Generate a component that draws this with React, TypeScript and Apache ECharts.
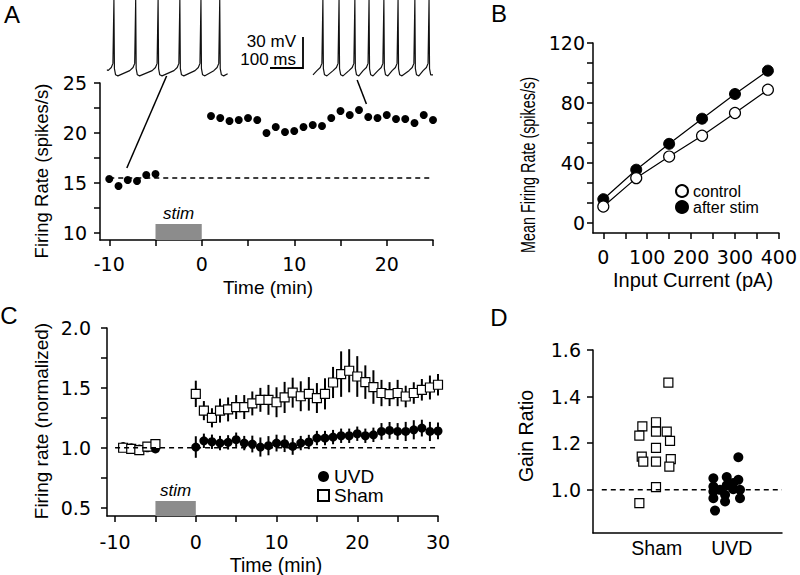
import React, { useEffect, useRef } from "react";
import * as echarts from "echarts";

const FONT = "'Liberation Sans', Arial, Helvetica, sans-serif";
const TICKFONT = "'DejaVu Sans', 'Liberation Sans', Arial, sans-serif";

// ---------------- Panel A : single cell firing rate ----------------
const timeA = [-10, -9, -8, -7, -6, -5, 1, 2, 3, 4, 5, 6, 7, 8, 9, 10, 11, 12, 13, 14, 15, 16, 17, 18, 19, 20, 21, 22, 23, 24, 25];
const rateA = [15.4, 14.7, 15.3, 15.2, 15.8, 15.9, 21.7, 21.5, 21.2, 21.3, 21.5, 21.3, 20.0, 20.6, 20.1, 20.2, 20.6, 20.8, 20.7, 21.5, 22.2, 21.8, 22.3, 21.6, 21.5, 21.8, 21.4, 21.4, 21.0, 21.8, 21.3];
const baselineA = 15.5;
const baselineSpanA = [-10, 25];
const stimWindow = [-5, 0];
const stimTopA = 10.9;
const connectorsA = [
  [[-3.8, 25.7], [-8.1, 16.5]],
  [[16.8, 25.3], [17.8, 22.9]],
];
const xTicksA = [-10, -5, 0, 5, 10, 15, 20, 25];
const xLabelsA = [-10, 0, 10, 20];
const yTicksA = [10, 12.5, 15, 17.5, 20, 22.5, 25];
const yLabelsA = [10, 15, 20, 25];

// inset voltage traces (ms, mV)
const spikesBefore = [21, 87, 155, 221, 285, 342];
const spikesAfter = [30, 79, 127, 170, 215, 258, 309, 352];
const spikeShapeOffsetMs = [-18, -8, -3, 0, 1.5, 5, 12];
const spikeShapeMv = [-48, -45, -41, 20, -46, -52, -53];
const traceEndsBefore = [[0, -47], [366, -51]];
const traceEndsAfter = [[0, -52], [364, -52]];

// ---------------- Panel B : f-I curves ----------------
const currentB = [0, 75, 150, 225, 300, 375];
const controlB = [10.7, 29.7, 44.1, 58.0, 73.2, 88.8];
const afterStimB = [15.6, 35.3, 52.6, 69.4, 85.9, 101.5];
const xTicksB = [0, 50, 100, 150, 200, 250, 300, 350, 400];
const xLabelsB = [0, 100, 200, 300, 400];
const yTicksB = [0, 13.333, 26.667, 40, 53.333, 66.667, 80, 93.333, 106.667, 120];
const yLabelsB = [0, 40, 80, 120];

// ---------------- Panel C : normalized firing rate ----------------
const timeC = [-9, -8, -7, -6, -5, 0, 1, 2, 3, 4, 5, 6, 7, 8, 9, 10, 11, 12, 13, 14, 15, 16, 17, 18, 19, 20, 21, 22, 23, 24, 25, 26, 27, 28, 29, 30];
const uvdMean = [1.01, 1.0, 0.99, 1.0, 0.99, 1.006, 1.058, 1.05, 1.039, 1.045, 1.067, 1.039, 1.031, 1.006, 1.017, 1.039, 1.034, 1.011, 1.039, 1.048, 1.081, 1.081, 1.089, 1.1, 1.1, 1.117, 1.1, 1.108, 1.136, 1.145, 1.136, 1.136, 1.15, 1.164, 1.136, 1.14];
const uvdSem = [0.02, 0.02, 0.02, 0.02, 0.02, 0.09, 0.06, 0.06, 0.06, 0.06, 0.06, 0.06, 0.07, 0.08, 0.08, 0.07, 0.07, 0.07, 0.06, 0.06, 0.06, 0.06, 0.06, 0.06, 0.06, 0.06, 0.06, 0.06, 0.07, 0.07, 0.07, 0.08, 0.08, 0.07, 0.08, 0.07];
const shamMean = [1.0, 0.99, 0.98, 1.01, 1.03, 1.45, 1.31, 1.25, 1.31, 1.32, 1.34, 1.34, 1.37, 1.4, 1.4, 1.38, 1.42, 1.46, 1.43, 1.45, 1.415, 1.45, 1.545, 1.615, 1.643, 1.595, 1.548, 1.507, 1.457, 1.448, 1.457, 1.428, 1.457, 1.484, 1.503, 1.526];
const shamSem = [0.03, 0.03, 0.03, 0.03, 0.03, 0.11, 0.08, 0.08, 0.1, 0.1, 0.1, 0.1, 0.1, 0.1, 0.125, 0.125, 0.13, 0.125, 0.125, 0.14, 0.125, 0.13, 0.13, 0.19, 0.18, 0.17, 0.14, 0.14, 0.11, 0.1, 0.11, 0.09, 0.09, 0.09, 0.1, 0.09];
const baselineC = 1.0;
const baselineSpanC = [-10, 30];
const stimTopC = 0.555;
const xTicksC = [-10, -5, 0, 5, 10, 15, 20, 25, 30];
const xLabelsC = [-10, 0, 10, 20, 30];
const yTicksC = [0.5, 0.75, 1.0, 1.25, 1.5, 1.75, 2.0];
const yLabelsC = [0.5, 1.0, 1.5, 2.0];

// ---------------- Panel D : gain ratio ----------------
const groupsD = ["Sham", "UVD"];
const shamGainX = [0.8, 1.155, 0.808, 0.768, 0.99, 0.99, 1.133, 1.177, 0.99, 0.8, 0.82, 0.99, 1.187, 1.168, 0.99, 0.768];
const shamGainY = [1.612, 1.46, 1.272, 1.233, 1.29, 1.25, 1.25, 1.21, 1.18, 1.143, 1.121, 1.121, 1.132, 1.1, 1.012, 0.943];
const uvdGainX = [2.088, 1.755, 1.933, 2.088, 1.755, 1.933, 2.02, 1.755, 1.844, 2.11, 1.755, 1.911, 2.11, 1.911, 1.777, 2.02];
const uvdGainY = [1.14, 1.05, 1.055, 1.043, 1.014, 1.02, 1.003, 0.993, 1.0, 1.0, 0.964, 0.979, 0.964, 0.95, 0.911, 1.03];
const baselineD = 1.0;
const baselineSpanD = [0.267, 2.67];
const yTicksD = [1.0, 1.2, 1.4, 1.6];

// ---------------- helpers ----------------
const zip = (xs: number[], ys: number[]) => xs.map((x, i) => [x, ys[i]]);

function buildTrace(spikes: number[], ends: number[][]) {
  const pts: number[][] = [];
  spikes.forEach((s) =>
    spikeShapeOffsetMs.forEach((o, k) => {
      const t = s + o;
      if (t > ends[0][0] && t < ends[1][0]) pts.push([t, spikeShapeMv[k]]);
    })
  );
  pts.sort((a, b) => a[0] - b[0]);
  return [ends[0], ...pts, ends[1]];
}

function axis(
  gridIndex: number,
  min: number,
  max: number,
  ticks: number[],
  labels: number[],
  margin: number,
  fontSize: number,
  fmt?: (v: number) => string,
  family: string = TICKFONT
) {
  return {
    type: "value",
    gridIndex,
    min,
    max,
    axisLine: { show: true, onZero: false, lineStyle: { color: "#000", width: 1.5 } },
    axisTick: ticks.length
      ? { show: true, length: 6, customValues: ticks, lineStyle: { color: "#000", width: 1.5 } }
      : { show: false },
    axisLabel: {
      customValues: labels,
      margin,
      fontSize,
      fontFamily: family,
      color: "#000",
      formatter: fmt || ((v: number) => String(v)),
    },
    splitLine: { show: false },
  };
}

const hidden = (gridIndex: number, min: number, max: number) => ({
  type: "value",
  gridIndex,
  min,
  max,
  show: false,
  splitLine: { show: false },
});

const dashed = { color: "#000", width: 1.5, type: [5, 4] };

function errorBars(name: string, idx: number, xs: number[], ys: number[], es: number[], w: number) {
  return {
    type: "custom",
    name,
    xAxisIndex: idx,
    yAxisIndex: idx,
    silent: true,
    data: xs.map((x, i) => [x, ys[i], es[i]]),
    encode: { x: 0, y: 1 },
    renderItem: (_p: any, api: any) => {
      const x = api.value(0);
      const y = api.value(1);
      const e = api.value(2);
      const a = api.coord([x, y + e]);
      const b = api.coord([x, y - e]);
      return {
        type: "line",
        shape: { x1: a[0], y1: a[1], x2: b[0], y2: b[1] },
        style: { stroke: "#000", lineWidth: w },
      };
    },
  };
}

const txt = (text: string, x: number, y: number, fontSize: number, rot = 0, extra: any = {}, scaleX = 1) => ({
  type: "text",
  x,
  y,
  rotation: rot,
  scaleX,
  silent: true,
  style: {
    text,
    fontSize,
    fontFamily: FONT,
    fill: "#000",
    align: "center",
    verticalAlign: "middle",
    ...extra,
  },
});

const stimLabel = {
  show: true,
  position: "top",
  formatter: "stim",
  fontStyle: "italic",
  fontSize: 17,
  fontFamily: FONT,
  color: "#000",
  distance: 2,
};

const solid = (c: string) => ({ color: c, opacity: 1 });

const option: any = {
  animation: false,
  backgroundColor: "#fff",
  textStyle: { fontFamily: FONT, color: "#000" },
  grid: [
    { left: 100, top: 83, width: 333, height: 157 },
    { left: 593, top: 43, width: 190, height: 190 },
    { left: 107, top: 328, width: 331, height: 188 },
    { left: 593, top: 350, width: 189, height: 183 },
    { left: 107, top: 0, width: 120, height: 80 },
    { left: 313, top: 0, width: 120, height: 80 },
  ],
  xAxis: [
    axis(0, -11, 25, xTicksA, xLabelsA, 14, 19),
    axis(1, -23.5, 400, xTicksB, xLabelsB, 14, 19),
    axis(2, -11, 30, xTicksC, xLabelsC, 16, 19),
    axis(3, 0.15, 2.67, [], [1, 2], 5, 19.5, (v: number) => groupsD[Math.round(v) - 1], FONT),
    hidden(4, 0, 364),
    hidden(5, 0, 364),
  ],
  yAxis: [
    axis(0, 9.3, 25, yTicksA, yLabelsA, 13, 19),
    axis(1, -7, 120, yTicksB, yLabelsB, 8, 19),
    axis(2, 0.43, 2.0, yTicksC, yLabelsC, 16, 19, (v: number) => v.toFixed(1)),
    axis(3, 0.815, 1.6, yTicksD, yTicksD, 12, 19, (v: number) => v.toFixed(1)),
    hidden(4, -57, 20),
    hidden(5, -57, 20),
  ],
  legend: [
    {
      data: [
        { name: "control", icon: "circle" },
        { name: "after stim", icon: "circle" },
      ],
      orient: "vertical",
      left: 670,
      top: 178,
      itemWidth: 12,
      itemHeight: 12,
      itemGap: 0,
      selectedMode: false,
      textStyle: { fontSize: 16, lineHeight: 16, color: "#000", fontFamily: FONT },
    },
    {
      data: [
        { name: "UVD", icon: "circle" },
        { name: "Sham", icon: "rect" },
      ],
      orient: "vertical",
      left: 312,
      top: 462,
      itemWidth: 11,
      itemHeight: 11,
      itemGap: 0,
      selectedMode: false,
      textStyle: { fontSize: 19, lineHeight: 19, color: "#000", fontFamily: FONT },
    },
  ],
  series: [
    // ---- A ----
    {
      type: "line",
      name: "baseline A",
      xAxisIndex: 0,
      yAxisIndex: 0,
      data: baselineSpanA.map((x) => [x, baselineA]),
      symbol: "none",
      lineStyle: dashed,
      silent: true,
      markArea: {
        silent: true,
        itemStyle: { color: "#8c8c8c", opacity: 1 },
        label: stimLabel,
        data: [[{ coord: [stimWindow[0], 9.3] }, { coord: [stimWindow[1], stimTopA] }]],
      },
    },
    ...connectorsA.map((seg, i) => ({
      type: "line",
      name: "connector " + i,
      xAxisIndex: 0,
      yAxisIndex: 0,
      data: seg,
      clip: false,
      symbol: "none",
      silent: true,
      lineStyle: { color: "#000", width: 1.5 },
    })),
    {
      type: "scatter",
      name: "rate A",
      xAxisIndex: 0,
      yAxisIndex: 0,
      data: zip(timeA, rateA),
      symbol: "circle",
      symbolSize: 8,
      itemStyle: solid("#000"),
    },
    {
      type: "line",
      name: "trace before",
      xAxisIndex: 4,
      yAxisIndex: 4,
      data: buildTrace(spikesBefore, traceEndsBefore),
      clip: false,
      symbol: "none",
      silent: true,
      lineStyle: { color: "#111", width: 1.2 },
    },
    {
      type: "line",
      name: "trace after",
      xAxisIndex: 5,
      yAxisIndex: 5,
      data: buildTrace(spikesAfter, traceEndsAfter),
      clip: false,
      symbol: "none",
      silent: true,
      lineStyle: { color: "#111", width: 1.2 },
    },
    // ---- B ----
    {
      type: "line",
      name: "after stim",
      xAxisIndex: 1,
      yAxisIndex: 1,
      data: zip(currentB, afterStimB),
      symbol: "circle",
      symbolSize: 11,
      itemStyle: { color: "#000", borderColor: "#000", borderWidth: 1, opacity: 1 },
      lineStyle: { color: "#000", width: 1.2 },
    },
    {
      type: "line",
      name: "control",
      xAxisIndex: 1,
      yAxisIndex: 1,
      data: zip(currentB, controlB),
      symbol: "circle",
      symbolSize: 11,
      itemStyle: { color: "#fff", borderColor: "#000", borderWidth: 1.2, opacity: 1 },
      lineStyle: { color: "#000", width: 1.2 },
    },
    // ---- C ----
    {
      type: "line",
      name: "baseline C",
      xAxisIndex: 2,
      yAxisIndex: 2,
      data: baselineSpanC.map((x) => [x, baselineC]),
      symbol: "none",
      lineStyle: dashed,
      silent: true,
      markArea: {
        silent: true,
        itemStyle: { color: "#8c8c8c", opacity: 1 },
        label: stimLabel,
        data: [[{ coord: [stimWindow[0], 0.43] }, { coord: [stimWindow[1], stimTopC] }]],
      },
    },
    errorBars("UVD sem", 2, timeC, uvdMean, uvdSem, 2),
    {
      type: "scatter",
      name: "UVD",
      xAxisIndex: 2,
      yAxisIndex: 2,
      data: zip(timeC, uvdMean),
      symbol: "circle",
      symbolSize: 9,
      itemStyle: solid("#000"),
    },
    errorBars("Sham sem", 2, timeC, shamMean, shamSem, 2),
    {
      type: "scatter",
      name: "Sham",
      xAxisIndex: 2,
      yAxisIndex: 2,
      data: zip(timeC, shamMean),
      symbol: "rect",
      symbolSize: 9,
      itemStyle: { color: "#fff", borderColor: "#000", borderWidth: 1.2, opacity: 1 },
    },
    // ---- D ----
    {
      type: "line",
      name: "baseline D",
      xAxisIndex: 3,
      yAxisIndex: 3,
      data: baselineSpanD.map((x) => [x, baselineD]),
      symbol: "none",
      lineStyle: dashed,
      silent: true,
    },
    {
      type: "scatter",
      name: "Sham gain",
      xAxisIndex: 3,
      yAxisIndex: 3,
      data: zip(shamGainX, shamGainY),
      symbol: "rect",
      symbolSize: 9,
      itemStyle: { color: "#fff", borderColor: "#000", borderWidth: 1.2, opacity: 1 },
    },
    {
      type: "scatter",
      name: "UVD gain",
      xAxisIndex: 3,
      yAxisIndex: 3,
      data: zip(uvdGainX, uvdGainY),
      symbol: "circle",
      symbolSize: 10,
      itemStyle: solid("#000"),
    },
  ],
  graphic: [
    txt("A", 12, 14, 24),
    txt("B", 499, 13, 24),
    txt("C", 9, 315, 24),
    txt("D", 499, 317, 24),
    txt("Firing Rate (spikes/s)", 41, 171, 18.5, Math.PI / 2),
    txt("Time (min)", 268, 287, 19),
    txt("Mean Firing Rate (spikes/s)", 528, 165, 20, Math.PI / 2, {}, 0.72),
    txt("Input Current (pA)", 693, 280, 20),
    txt("Firing rate (normalized)", 41, 421, 19, Math.PI / 2),
    txt("Time (min)", 276, 565, 19.5),
    txt("Gain Ratio", 526, 436, 19.5, Math.PI / 2),
    {
      type: "polyline",
      silent: true,
      shape: { points: [[303, 37], [303, 68], [270, 68]] },
      style: { stroke: "#000", lineWidth: 1.8, fill: null },
    },
    txt("30 mV", 296, 41, 17, 0, { align: "right" }),
    txt("100 ms", 296, 59, 17, 0, { align: "right" }),
  ],
};

export default function App() {
  const ref = useRef<HTMLDivElement>(null);
  useEffect(() => {
    if (!ref.current) return;
    const chart = echarts.init(ref.current, null, { renderer: "svg" });
    chart.setOption(option);
    return () => chart.dispose();
  }, []);
  return (
    <div
      ref={ref}
      style={{ position: "absolute", left: 0, top: 0, width: 800, height: 575, background: "#fff" }}
    />
  );
}
